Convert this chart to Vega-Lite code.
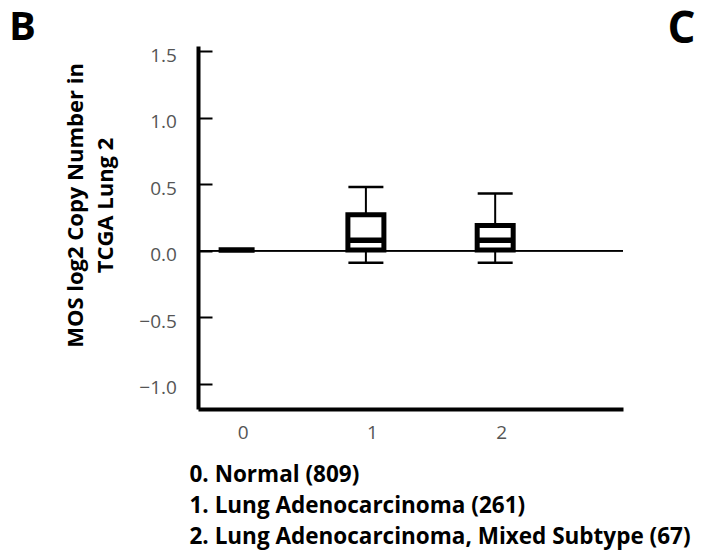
{
  "$schema": "https://vega.github.io/schema/vega-lite/v6.json",
  "width": 425,
  "height": 363,
  "autosize": "none",
  "padding": {"left": 198, "top": 46, "right": 91, "bottom": 147},
  "background": "white",
  "config": {
    "view": {"stroke": null},
    "font": "Open Sans",
    "axis": {"grid": false}
  },
  "title": {
    "text": "B",
    "anchor": "start",
    "frame": "group",
    "dx": -189,
    "dy": 73,
    "baseline": "alphabetic",
    "font": "Open Sans",
    "fontSize": 40,
    "fontWeight": "bold",
    "color": "black",
    "offset": 0
  },
  "data": {
    "values": [
      {"group": 0, "median": 0.005},
      {"group": 1, "lower": -0.09, "q1": 0.005, "median": 0.08, "q3": 0.27, "upper": 0.48},
      {"group": 2, "lower": -0.09, "q1": 0.005, "median": 0.08, "q3": 0.19, "upper": 0.43}
    ]
  },
  "layer": [
    {
      "mark": {"type": "rule", "color": "black", "strokeWidth": 1.5},
      "encoding": {
        "y": {
          "datum": 0,
          "type": "quantitative",
          "scale": {"domain": [-1.19, 1.54], "nice": false, "zero": false},
          "axis": {
            "orient": "left",
            "values": [-1, -0.5, 0, 0.5, 1, 1.5],
            "format": ".1f",
            "domainColor": "black",
            "domainWidth": 4,
            "tickColor": "black",
            "tickWidth": 2,
            "tickSize": -14,
            "labelPadding": 35.6,
            "labelOffset": 4,
            "labelFont": "Open Sans",
            "labelFontSize": 19,
            "labelColor": "#555555",
            "title": ["MOS log2 Copy Number in", "TCGA Lung 2"],
            "titleFont": "Open Sans",
            "titleFontSize": 22,
            "titleFontWeight": "bold",
            "titleColor": "black",
            "titleAngle": -90,
            "titleAlign": "center",
            "titleBaseline": "alphabetic",
            "titleLineHeight": 30,
            "titleX": -116,
            "titleY": 159
          }
        }
      }
    },
    {
      "mark": {"type": "rule", "color": "black", "strokeWidth": 2},
      "encoding": {
        "x": {
          "field": "group",
          "type": "quantitative",
          "scale": {"domain": [-0.26, 2.95], "nice": false, "zero": false},
          "axis": {
            "values": [0, 1, 2],
            "format": "d",
            "ticks": false,
            "domainColor": "black",
            "domainWidth": 4,
            "labelFont": "Open Sans",
            "labelFontSize": 19,
            "labelColor": "#555555",
            "labelPadding": 14,
            "labelOffset": 6,
            "title": ["0. Normal (809)", "1. Lung Adenocarcinoma (261)", "2. Lung Adenocarcinoma, Mixed Subtype (67)"],
            "titleFont": "Open Sans",
            "titleFontSize": 22.5,
            "titleFontWeight": "bold",
            "titleColor": "black",
            "titleAnchor": "start",
            "titleAlign": "left",
            "titleBaseline": "alphabetic",
            "titleLineHeight": 31,
            "titleX": -9,
            "titleY": 72
          }
        },
        "y": {"field": "lower", "type": "quantitative", "axis": {"orient": "right", "domain": false, "ticks": false, "labels": false, "title": "C", "titleAngle": 0, "titleFont": "Open Sans", "titleFontSize": 44, "titleFontWeight": "bold", "titleColor": "black", "titleAlign": "center", "titleBaseline": "alphabetic", "titleX": 58, "titleY": -4}},
        "y2": {"field": "upper"}
      }
    },
    {
      "mark": {"type": "bar", "fill": "white", "stroke": "black", "strokeWidth": 5, "width": 36, "opacity": 1},
      "encoding": {
        "x": {"field": "group", "type": "quantitative"},
        "y": {"field": "q1", "type": "quantitative", "axis": null},
        "y2": {"field": "q3"}
      }
    },
    {
      "mark": {"type": "tick", "orient": "horizontal", "color": "black", "opacity": 1, "thickness": 5.5, "size": 36},
      "encoding": {
        "x": {"field": "group", "type": "quantitative"},
        "y": {"field": "median", "type": "quantitative", "axis": null}
      }
    },
    {
      "mark": {"type": "tick", "orient": "horizontal", "color": "black", "opacity": 1, "thickness": 2.5, "size": 35},
      "encoding": {
        "x": {"field": "group", "type": "quantitative"},
        "y": {"field": "upper", "type": "quantitative", "axis": null}
      }
    },
    {
      "mark": {"type": "tick", "orient": "horizontal", "color": "black", "opacity": 1, "thickness": 2.5, "size": 35},
      "encoding": {
        "x": {"field": "group", "type": "quantitative"},
        "y": {"field": "lower", "type": "quantitative", "axis": null}
      }
    }
  ],
  "resolve": {"axis": {"y": "independent"}}
}
